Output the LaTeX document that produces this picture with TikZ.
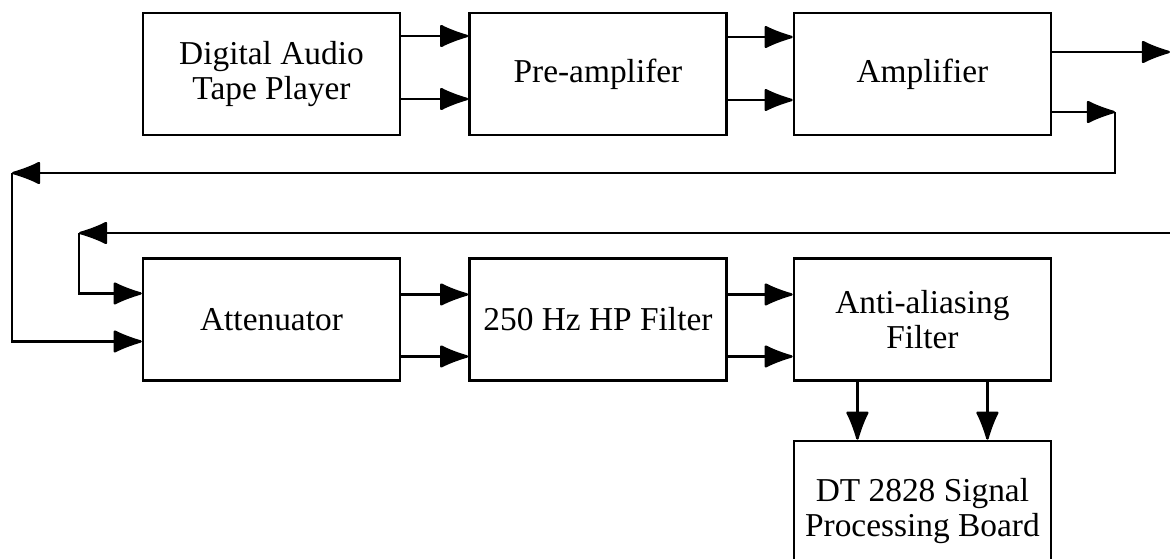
\documentclass[tikz,border=0pt]{standalone}
\usepackage{fontspec}
\setmainfont{Liberation Serif}
\usetikzlibrary{positioning}
\usetikzlibrary{arrows.meta}

\begin{document}
\begin{tikzpicture}[
  font=\fontsize{19}{20}\selectfont,
  box/.style={draw, line width=1.4pt, align=center, inner sep=0pt, minimum width=5.14cm, minimum height=2.44cm},
  arrow/.style={-{Latex[length=6.4mm, width=4.8mm, round]}, line width=1.4pt},
  line/.style={line width=1.4pt}
]
\useasboundingbox (0,0) rectangle (23.4,11.16);
\clip (0,0) rectangle (23.4,11.16);

\node[box] at (5.43,9.68) (dat) {Digital Audio\\Tape Player};
\node[box, right=1.34cm of dat] (pre) {Pre-amplifer};
\node[box, right=1.3cm of pre] (amp) {Amplifier};

\node[box, below=2.42cm of dat] (att) {Attenuator};
\node[box, right=1.34cm of att] (hp) {250 Hz HP Filter};
\node[box, right=1.3cm of hp] (aaf) {Anti-aliasing\\Filter};
\node[box, below=1.16cm of aaf, minimum height=2.8cm] (dt) {DT 2828 Signal\\Processing Board};

% feedback corners
\coordinate (out) at (23.4,10.12);
\coordinate (tap) at (22.3,8.92);
\coordinate (back1) at (0.24,7.7);
\coordinate (ret) at (23.4,6.5);
\coordinate (back2) at (1.58,6.5);

\draw[arrow] ([yshift=0.76cm]dat.east) -- ([yshift=0.76cm]pre.west);
\draw[arrow] ([yshift=-0.5cm]dat.east) -- ([yshift=-0.5cm]pre.west);
\draw[arrow] ([yshift=0.74cm]pre.east) -- ([yshift=0.74cm]amp.west);
\draw[arrow] ([yshift=-0.52cm]pre.east) -- ([yshift=-0.52cm]amp.west);

\draw[arrow] ([yshift=0.44cm]amp.east) -- (out);
\draw[arrow] ([yshift=-0.76cm]amp.east) -- (tap);
\draw[arrow] (tap) |- (back1);
\draw[arrow] (back1) |- ([yshift=-0.44cm]att.west);
\draw[arrow] (ret) -- (back2);
\draw[arrow] (back2) |- ([yshift=0.52cm]att.west);

\draw[arrow] ([yshift=0.5cm]att.east) -- ([yshift=0.5cm]hp.west);
\draw[arrow] ([yshift=-0.74cm]att.east) -- ([yshift=-0.74cm]hp.west);
\draw[arrow] ([yshift=0.5cm]hp.east) -- ([yshift=0.5cm]aaf.west);
\draw[arrow] ([yshift=-0.74cm]hp.east) -- ([yshift=-0.74cm]aaf.west);

\draw[arrow] ([xshift=-1.3cm]aaf.south) -- ([xshift=-1.3cm]dt.north);
\draw[arrow] ([xshift=1.3cm]aaf.south) -- ([xshift=1.3cm]dt.north);

\end{tikzpicture}
\end{document}
